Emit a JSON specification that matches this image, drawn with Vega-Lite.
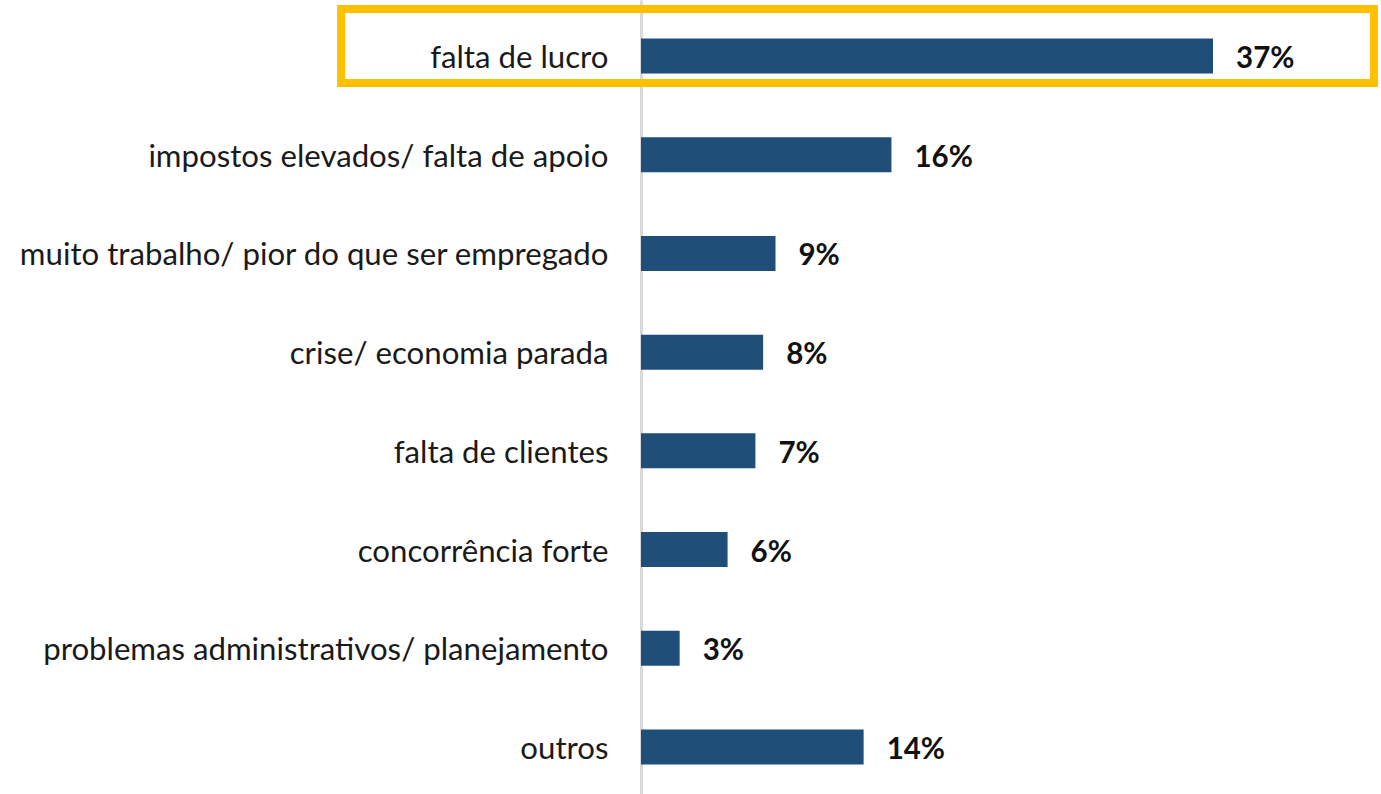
{
  "$schema": "https://vega.github.io/schema/vega-lite/v6.json",
  "autosize": {"type": "none"},
  "padding": {"left": 641, "top": 0, "right": 0, "bottom": 0},
  "width": 740,
  "height": 794,
  "background": "white",
  "data": {
    "values": [
      {"motivo": "falta de lucro", "valor": 37.0, "rotulo": "37%"},
      {"motivo": "impostos elevados/ falta de apoio", "valor": 16.2, "rotulo": "16%"},
      {"motivo": "muito trabalho/ pior do que ser empregado", "valor": 8.7, "rotulo": "9%"},
      {"motivo": "crise/ economia parada", "valor": 7.9, "rotulo": "8%"},
      {"motivo": "falta de clientes", "valor": 7.4, "rotulo": "7%"},
      {"motivo": "concorrência forte", "valor": 5.6, "rotulo": "6%"},
      {"motivo": "problemas administrativos/ planejamento", "valor": 2.5, "rotulo": "3%"},
      {"motivo": "outros", "valor": 14.4, "rotulo": "14%"}
    ]
  },
  "encoding": {
    "y": {
      "field": "motivo",
      "type": "nominal",
      "sort": null,
      "title": null,
      "scale": {"paddingInner": 0.6454, "paddingOuter": 0.3446, "align": 0.566},
      "axis": {
        "ticks": false,
        "tickSize": 0,
        "labelPadding": 33,
        "labelOffset": 3,
        "labelFont": "Lato",
        "labelFontSize": 31.2,
        "labelColor": "#1a1a1a",
        "labelLimit": 700,
        "domainColor": "#d9d9d9",
        "domainWidth": 3,
        "grid": false,
        "zindex": 0
      }
    }
  },
  "layer": [
    {
      "mark": {"type": "bar", "color": "#1F4E79", "height": {"band": 1}},
      "encoding": {
        "x": {
          "field": "valor",
          "type": "quantitative",
          "scale": {"domain": [0, 47.865], "nice": false, "zero": true},
          "axis": null
        }
      }
    },
    {
      "mark": {"type": "text", "align": "left", "baseline": "middle", "dx": 23, "dy": 3, "font": "Lato", "fontSize": 29.5, "fontWeight": "bold", "color": "#111111"},
      "encoding": {
        "x": {"field": "valor", "type": "quantitative"},
        "text": {"field": "rotulo", "type": "nominal"}
      }
    },
    {
      "transform": [{"filter": "datum.motivo === 'falta de lucro'"}],
      "mark": {"type": "rect", "filled": false, "stroke": "#FFC000", "strokeWidth": 8, "height": {"band": 2.114}, "yOffset": -10, "clip": false},
      "encoding": {
        "x": {"datum": -19.4, "type": "quantitative"},
        "x2": {"datum": 47.41}
      }
    }
  ],
  "config": {"view": {"stroke": null}}
}
